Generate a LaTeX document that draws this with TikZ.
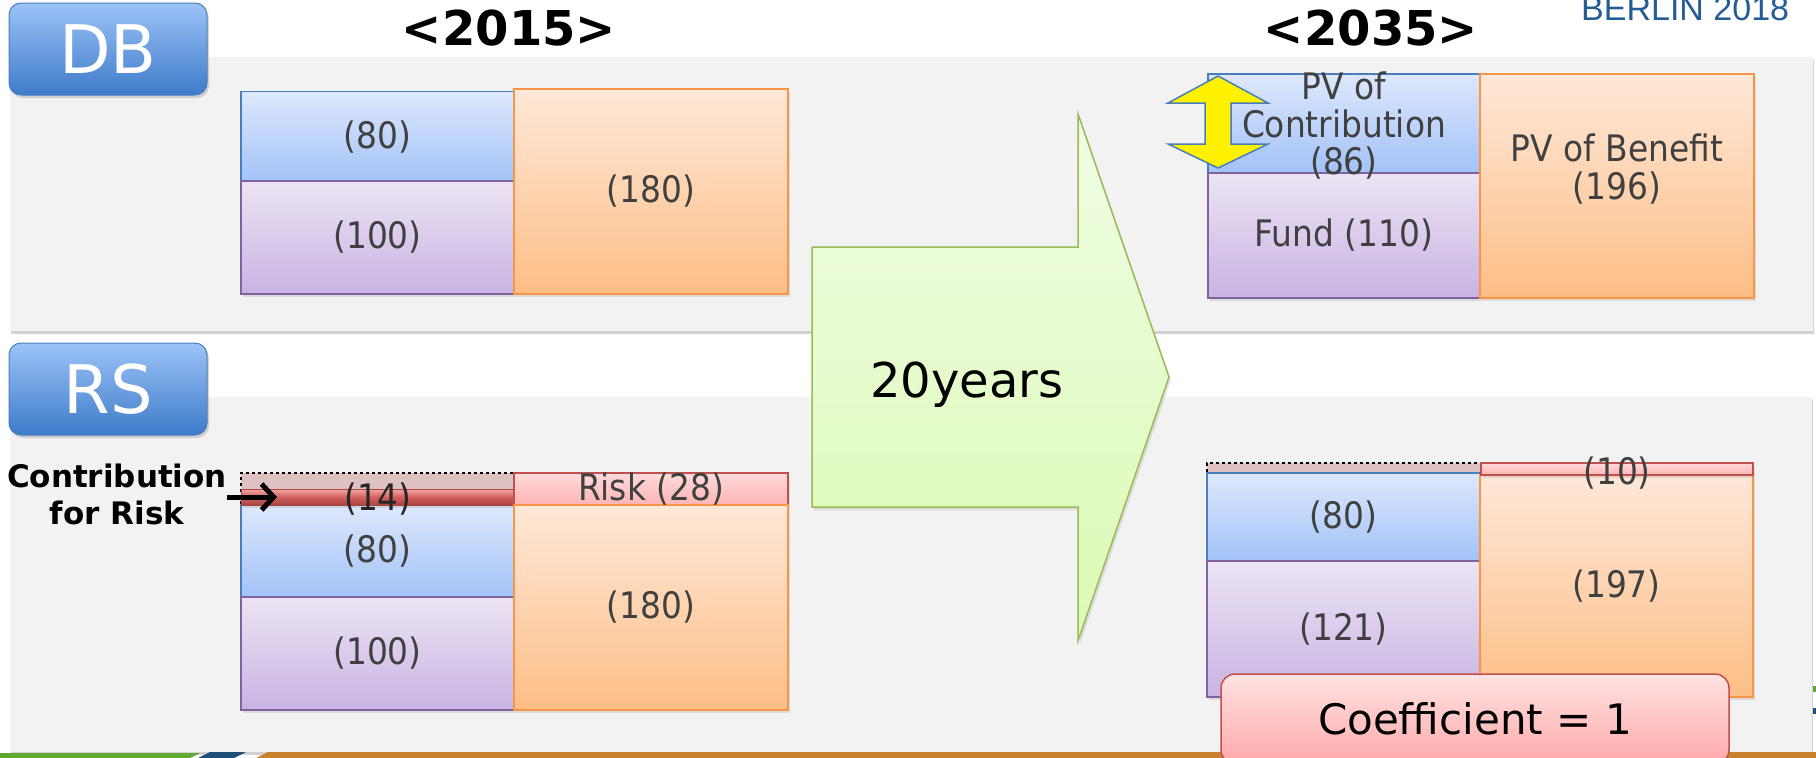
\documentclass[tikz,border=0pt]{standalone}
\usepackage{fontspec}
\setmainfont{DejaVu Sans}
\newfontfamily\condfont{DejaVu Sans Condensed}
\newfontfamily\berlinfont{Liberation Sans}
\usetikzlibrary{shadows,arrows.meta}

\definecolor{panelgray}{HTML}{F2F2F2}
\definecolor{bluetop}{HTML}{DDE8FC}
\definecolor{bluebot}{HTML}{A2C2F8}
\definecolor{blueline}{HTML}{4A7EBB}
\definecolor{purptop}{HTML}{ECE4F4}
\definecolor{purpbot}{HTML}{C8B3E3}
\definecolor{purpline}{HTML}{7F63A1}
\definecolor{orgtop}{HTML}{FEE8D8}
\definecolor{orgbot}{HTML}{FDBE86}
\definecolor{orgline}{HTML}{F79646}
\definecolor{redtop}{HTML}{FFDADA}
\definecolor{redbot}{HTML}{FFB4B4}
\definecolor{redline}{HTML}{C0504D}
\definecolor{barhi}{HTML}{F4A8A6}
\definecolor{barmid}{HTML}{D2605D}
\definecolor{barlo}{HTML}{A94441}
\definecolor{dashfill}{HTML}{DEC2C2}
\definecolor{grtop}{HTML}{F0FCE4}
\definecolor{grbot}{HTML}{DBFAB4}
\definecolor{grline}{HTML}{9BBB59}
\definecolor{tagtop}{HTML}{9CC3F8}
\definecolor{tagbot}{HTML}{3E7BC9}
\definecolor{labgray}{HTML}{404040}
\definecolor{berlinblue}{HTML}{245C95}
\definecolor{coeftop}{HTML}{FFE2E2}
\definecolor{coefbot}{HTML}{FFA9A9}
\definecolor{stripgreen}{HTML}{5FA832}
\definecolor{stripblue}{HTML}{1F4E79}
\definecolor{striporange}{HTML}{C8822E}

\begin{document}
\begin{tikzpicture}[
  x = 1pt, y = -1pt,
  sz/.style 2 args = {minimum width = #1pt, minimum height = #2pt},
  panel/.style = {
    fill = panelgray,
    drop shadow = {shadow xshift = 1pt, shadow yshift = -3pt, opacity = 0.35},
  },
  tag/.style = {
    shape = rectangle,
    rounded corners = 12pt,
    draw = blueline,
    line width = 1pt,
    top color = tagtop,
    bottom color = tagbot,
    sz = {198}{92},
    inner sep = 0pt,
    text = white,
    font = \fontsize{67}{70}\selectfont,
    drop shadow = {shadow xshift = 2pt, shadow yshift = -3pt, opacity = 0.3},
  },
  box/.style = {
    shape = rectangle,
    line width = 1.5pt,
    inner sep = 0pt,
    outer sep = 0pt,
    text = labgray,
    font = \condfont\fontsize{36.5}{37.5}\selectfont,
    align = center,
    drop shadow = {shadow xshift = 2pt, shadow yshift = -3pt, opacity = 0.2},
  },
  bluebox/.style = {box, draw = blueline, top color = bluetop, bottom color = bluebot},
  purpbox/.style = {box, draw = purpline, top color = purptop, bottom color = purpbot},
  orgbox/.style = {box, draw = orgline, top color = orgtop, bottom color = orgbot},
  redbox/.style = {box, draw = redline, top color = redtop, bottom color = redbot},
  redbar/.style = {box, draw = barlo, line width = 1pt, top color = barhi,
    bottom color = barlo, middle color = barmid},
  dashbox/.style = {shape = rectangle, draw = black, dashed, line width = 1.5pt,
    fill = dashfill, inner sep = 0pt},
  boxtext/.style = {inner sep = 0pt, text = labgray, align = center,
    font = \condfont\fontsize{36.5}{37.5}\selectfont},
  year/.style = {inner sep = 0pt, font = \bfseries\fontsize{48}{50}\selectfont},
]
  \useasboundingbox (0, 0) rectangle (1816, 758);
  \fill[white] (0, 0) rectangle (1816, 758);

  % panels
  \fill[panel] (10, 57) rectangle (1813, 331);
  \fill[panel] (10, 397) rectangle (1812, 752);

  % footer strip
  \fill[stripgreen] (0, 753) -- (200, 753) -- (190, 758) -- (0, 758) -- cycle;
  \fill[stripblue] (210, 752) -- (246, 752) -- (234, 758) -- (198, 758) -- cycle;
  \fill[striporange] (268, 752) -- (1816, 752) -- (1816, 758) -- (256, 758) -- cycle;
  \fill[stripgreen] (1813, 686) rectangle (1816, 692);
  \fill[stripblue] (1813, 708) rectangle (1816, 714);

  \node[tag] (db) at (108, 49) {DB};
  \node[tag] (rs) at (108, 389) {RS};

  \node[year] (y2015) at (509, 28) {<2015>};
  \node[year] (y2035) at (1371, 28) {<2035>};
  \node[inner sep = 0pt, anchor = base west, text = berlinblue,
    font = \berlinfont\fontsize{34}{36}\selectfont] (berlin) at (1581, 20) {BERLIN 2018};

  % DB 2015
  \node[bluebox, sz = {273}{91}] (dbb80) at (377.5, 137) {(80)};
  \node[purpbox, sz = {273}{113}] (dbp100) at (377.5, 237.5) {(100)};
  \node[orgbox, sz = {274}{205}] (dbo180) at (651, 191.5) {(180)};

  % 20 years
  \draw[draw = grline, line width = 1.5pt, top color = grtop, bottom color = grbot,
    drop shadow = {shadow xshift = 2pt, shadow yshift = -3pt, opacity = 0.2}]
    (812, 247) -- (1078, 247) -- (1078, 114) -- (1169, 377)
    -- (1078, 641) -- (1078, 507) -- (812, 507) -- cycle;
  \node[inner sep = 0pt, font = \fontsize{48}{50}\selectfont] (years) at (967, 385) {20years};

  % DB 2035
  \node[bluebox, sz = {272}{99}] (dbb86) at (1344, 123.5) {};
  \node[purpbox, sz = {272}{125}] (dbfund) at (1344, 235.5) {Fund (110)};
  \node[orgbox, sz = {274}{224}] (dbo196) at (1617, 186) {};
  \node[boxtext] (dbb86t) at (1344, 126) {PV of\\Contribution\\(86)};
  \node[boxtext] (dbo196t) at (1617, 169) {PV of Benefit\\(196)};
  \draw[fill = yellow, draw = blueline, line width = 1.5pt, line join = miter]
    (1218, 76) -- (1268, 103) -- (1231, 103) -- (1231, 144) -- (1268, 144)
    -- (1218, 168) -- (1168, 144) -- (1205, 144) -- (1205, 103) -- (1168, 103) -- cycle;

  % RS 2015
  \node[dashbox, sz = {273}{32}] (dash14) at (377.5, 489) {};
  \node[bluebox, sz = {273}{92}] (rsb80) at (377.5, 551) {(80)};
  \node[purpbox, sz = {273}{113}] (rsp100) at (377.5, 653.5) {(100)};
  \node[redbar, sz = {273}{16}] (bar14) at (377.5, 497) {};
  \node[boxtext, text = black!85] (bar14t) at (378, 499) {(14)};
  \node[redbox, sz = {274}{32}] (risk28) at (651, 489) {};
  \node[orgbox, sz = {274}{205}] (rso180) at (651, 607.5) {(180)};
  \node[boxtext] (risk28t) at (651, 489) {Risk (28)};

  \node[inner sep = 0pt, align = center, font = \bfseries\fontsize{31}{37}\selectfont]
    (cfr) at (117, 494) {Contribution\\for Risk};
  \draw[-{Straight Barb[length = 12pt, width = 26pt]}, line width = 5pt]
    (cfr.east |- bar14.center) -- ([xshift = 36pt]bar14.west);

  % RS 2035
  \node[dashbox, sz = {274}{10}] (dash10) at (1344, 468) {};
  \node[bluebox, sz = {273}{88}] (rsb80b) at (1343.5, 517) {(80)};
  \node[purpbox, sz = {273}{136}] (rsp121) at (1343.5, 629) {(121)};
  \node[orgbox, sz = {273}{222}] (rso197) at (1616.5, 586) {(197)};
  \node[redbox, sz = {272}{12}] (risk10) at (1617, 469) {};
  \node[boxtext] (risk10t) at (1617, 473) {(10)};

  \node[shape = rectangle, rounded corners = 14pt, draw = redline, line width = 1.5pt,
    top color = coeftop, bottom color = coefbot, sz = {508}{90}, inner sep = 0pt,
    font = \fontsize{42}{44}\selectfont] (coef) at (1475, 719) {Coefficient = 1};
\end{tikzpicture}
\end{document}
